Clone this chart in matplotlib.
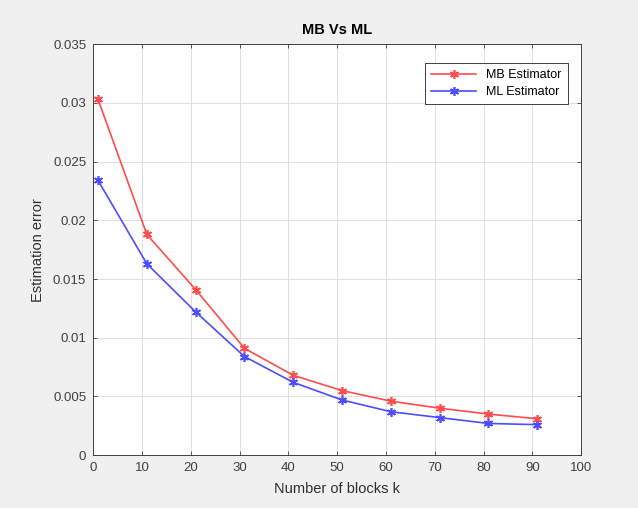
import matplotlib.pyplot as plt

plt.rcParams['font.family'] = ['Liberation Sans', 'DejaVu Sans']

# block counts and the two estimators' errors
blocks_k = [1, 11, 21, 31, 41, 51, 61, 71, 81, 91]
mb_error = [0.0303, 0.0188, 0.0141, 0.0091, 0.0068, 0.0055, 0.0046, 0.0040, 0.0035, 0.0031]
ml_error = [0.0234, 0.0163, 0.0122, 0.0084, 0.0062, 0.0047, 0.0037, 0.0032, 0.0027, 0.0026]

x_ticks = list(range(0, 101, 10))
y_ticks = [0, 0.005, 0.01, 0.015, 0.02, 0.025, 0.03, 0.035]
y_tick_labels = ['0', '0.005', '0.01', '0.015', '0.02', '0.025', '0.03', '0.035']

fig = plt.figure(figsize=(6.38, 5.08), dpi=100, facecolor='#f0f0f0')
ax = fig.add_axes([0.146, 0.104, 0.765, 0.809])

asterisk = (6, 2, 0)
ax.plot(blocks_k, mb_error, color='#ff4d4d', lw=1.2, marker=asterisk, ms=6.5,
        mew=1.2, label='MB Estimator')
ax.plot(blocks_k, ml_error, color='#4d4dff', lw=1.2, marker=asterisk, ms=6.5,
        mew=1.2, label='ML Estimator')

ax.set_xlim(0, 100)
ax.set_ylim(0, 0.035)
ax.set_xticks(x_ticks)
ax.set_yticks(y_ticks)
ax.set_yticklabels(y_tick_labels)
ax.tick_params(direction='in', top=True, right=True, labelsize=9.5,
               colors='#404040', length=3, width=0.6, pad=5)
ax.grid(True, color='#e0e0e0', lw=0.7)
for side in ax.spines.values():
    side.set_color('#404040')
    side.set_linewidth(0.7)

ax.set_title('MB Vs ML', fontsize=10.5, fontweight='bold', pad=7)
ax.set_xlabel('Number of blocks k', fontsize=10.5, color='#303030', labelpad=6)
ax.set_ylabel('Estimation error', fontsize=10.5, color='#303030', labelpad=6)

leg = ax.legend(loc='upper right', fontsize=9, fancybox=False, framealpha=1,
                edgecolor='#404040', borderpad=0.5, handlelength=3.6,
                labelspacing=0.4, bbox_to_anchor=(0.985, 0.97))
leg.get_frame().set_linewidth(0.7)

fig.savefig('out.png', dpi=100, facecolor=fig.get_facecolor())
